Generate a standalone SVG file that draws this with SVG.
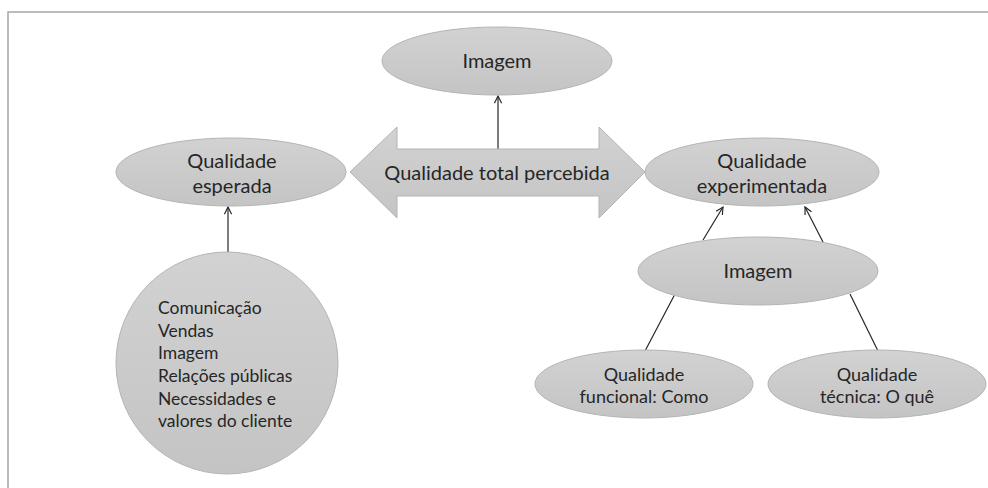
<svg xmlns="http://www.w3.org/2000/svg" width="988" height="488" viewBox="0 0 988 488">
  <defs>
    <linearGradient id="shade" x1="0" y1="0" x2="0" y2="1">
      <stop offset="0" stop-color="#d2d2d2"/>
      <stop offset="1" stop-color="#c4c4c4"/>
    </linearGradient>
    <marker id="open-head" viewBox="0 0 10 10" refX="9" refY="5" markerWidth="9" markerHeight="9" markerUnits="userSpaceOnUse" orient="auto">
      <path d="M1,1 L9,5 L1,9" fill="none" stroke="#262626" stroke-width="1.3"/>
    </marker>
  </defs>
  <style>
    .shape { fill: url(#shade); stroke: #b4b4b4; stroke-width: 1; }
    .label { font-family: Lato, "Liberation Sans", sans-serif; fill: #262626; text-anchor: middle; }
    .big { font-size: 20px; }
    .small { font-size: 18px; }
    .list { font-family: Lato, "Liberation Sans", sans-serif; fill: #262626; font-size: 17.5px; }
    .conn { stroke: #262626; stroke-width: 1.2; fill: none; }
    .frame { stroke: #a6a6a6; stroke-width: 1.5; fill: none; }
  </style>

  <rect x="0" y="0" width="988" height="488" fill="#ffffff"/>
  <path class="frame" d="M8,488 L8,12 L988,12"/>

  <g id="connectors">
    <line class="conn" x1="498" y1="149" x2="498" y2="96" marker-end="url(#open-head)"/>
    <line class="conn" x1="228" y1="252" x2="228" y2="207" marker-end="url(#open-head)"/>
    <line class="conn" x1="703" y1="240" x2="723" y2="207" marker-end="url(#open-head)"/>
    <line class="conn" x1="823" y1="242" x2="805" y2="207" marker-end="url(#open-head)"/>
    <line class="conn" x1="675" y1="294" x2="645" y2="351"/>
    <line class="conn" x1="850" y1="294" x2="878" y2="351"/>
  </g>

  <g id="imagem-top">
    <ellipse class="shape" cx="497" cy="61" rx="115" ry="34"/>
    <text class="label big" x="497" y="68">Imagem</text>
  </g>

  <g id="qualidade-total">
    <polygon class="shape" points="350,172 397,127 397,149 599,149 599,127 645,172 599,218 599,196 397,196 397,218"/>
    <text class="label big" x="497" y="180">Qualidade total percebida</text>
  </g>

  <g id="qualidade-esperada">
    <ellipse class="shape" cx="231" cy="172" rx="115" ry="34"/>
    <text class="label big" x="232" y="168">Qualidade</text>
    <text class="label big" x="232" y="193">esperada</text>
  </g>

  <g id="qualidade-experimentada">
    <ellipse class="shape" cx="762" cy="172" rx="117" ry="34"/>
    <text class="label big" x="762" y="168">Qualidade</text>
    <text class="label big" x="762" y="193">experimentada</text>
  </g>

  <g id="imagem-right">
    <ellipse class="shape" cx="758" cy="271" rx="120" ry="34"/>
    <text class="label big" x="758" y="278">Imagem</text>
  </g>

  <g id="qualidade-funcional">
    <ellipse class="shape" cx="644" cy="384" rx="109" ry="34"/>
    <text class="label small" x="644" y="381">Qualidade</text>
    <text class="label small" x="644" y="403">funcional: Como</text>
  </g>

  <g id="qualidade-tecnica">
    <ellipse class="shape" cx="877" cy="384" rx="109" ry="34"/>
    <text class="label small" x="877" y="381">Qualidade</text>
    <text class="label small" x="877" y="403">técnica: O quê</text>
  </g>

  <g id="fatores">
    <circle class="shape" cx="227" cy="363" r="111"/>
    <text class="list" x="158" y="314">Comunicação</text>
    <text class="list" x="158" y="337">Vendas</text>
    <text class="list" x="158" y="359">Imagem</text>
    <text class="list" x="158" y="382">Relações públicas</text>
    <text class="list" x="158" y="405">Necessidades e</text>
    <text class="list" x="158" y="427">valores do cliente</text>
  </g>
</svg>
